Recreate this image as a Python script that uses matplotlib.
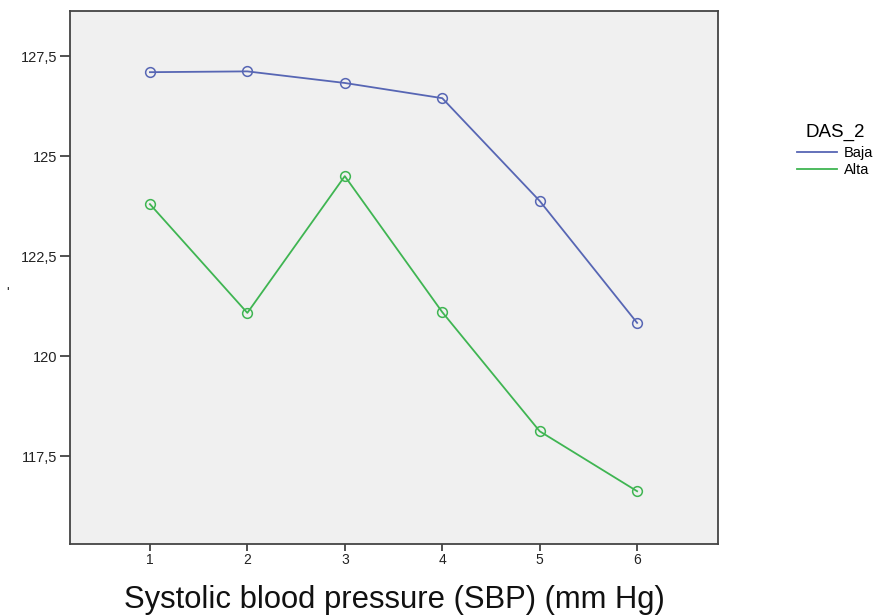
import matplotlib
matplotlib.use("Agg")
import matplotlib.pyplot as plt
from matplotlib.lines import Line2D

plt.rcParams['font.family'] = ['Liberation Sans', 'DejaVu Sans']

x = [1, 2, 3, 4, 5, 6]
baja = [127.1, 127.12, 126.83, 126.45, 123.88, 120.83]
alta = [123.8, 121.08, 124.5, 121.1, 118.12, 116.62]
yticks = [117.5, 120, 122.5, 125, 127.5]
ytick_labels = ["117,5", "120", "122,5", "125", "127,5"]
series_names = ['Baja', 'Alta']

fig = plt.figure(figsize=(8.77, 6.15), dpi=100)
W, H = 877, 615
ax = fig.add_axes([70 / W, 1 - 544 / H, (718 - 70) / W, (544 - 11) / H])
ax.set_facecolor('#f0f0f0')

blue = '#5766b4'
green = '#3fb552'
ax.plot(x, baja, color=blue, lw=1.3, marker='o', ms=7, mfc='none', mec=blue, mew=1.1)
ax.plot(x, alta, color=green, lw=1.3, marker='o', ms=7, mfc='none', mec=green, mew=1.1)

ax.set_xlim(0.18, 6.83)
ax.set_ylim(115.3, 128.63)
ax.set_xticks(x)
ax.set_xticklabels([str(v) for v in x], fontsize=10, color='#222222')
ax.set_yticks(yticks)
ax.set_yticklabels(ytick_labels, fontsize=10.5, color='#222222')
ax.tick_params(axis='y', direction='out', length=7, width=1.2, color='#333333', pad=2)
ax.tick_params(axis='x', direction='out', length=5, width=1.2, color='#333333', pad=1.5)
for s in ax.spines.values():
    s.set_color('#444444')
    s.set_linewidth(1.3)

ax.set_xlabel('Systolic blood pressure (SBP) (mm Hg)', fontsize=22.3, color='#111111', labelpad=13)
fig.text(8 / W, 1 - 293 / H, "'", ha='center', va='center', fontsize=10, color='#222222')

handles = [Line2D([], [], color=blue, lw=1.3), Line2D([], [], color=green, lw=1.3)]
leg = ax.legend(handles, series_names, loc='upper left', bbox_to_anchor=(797 / W, 1 - 124 / H),
                bbox_transform=fig.transFigure, frameon=False, title='DAS_2',
                fontsize=10.5, title_fontsize=13.5, handlelength=2.75, handletextpad=0.48,
                labelspacing=0.22, borderpad=0, borderaxespad=0)
leg._legend_box.sep = 3.6

fig.savefig('out.png', dpi=100, facecolor='white')
